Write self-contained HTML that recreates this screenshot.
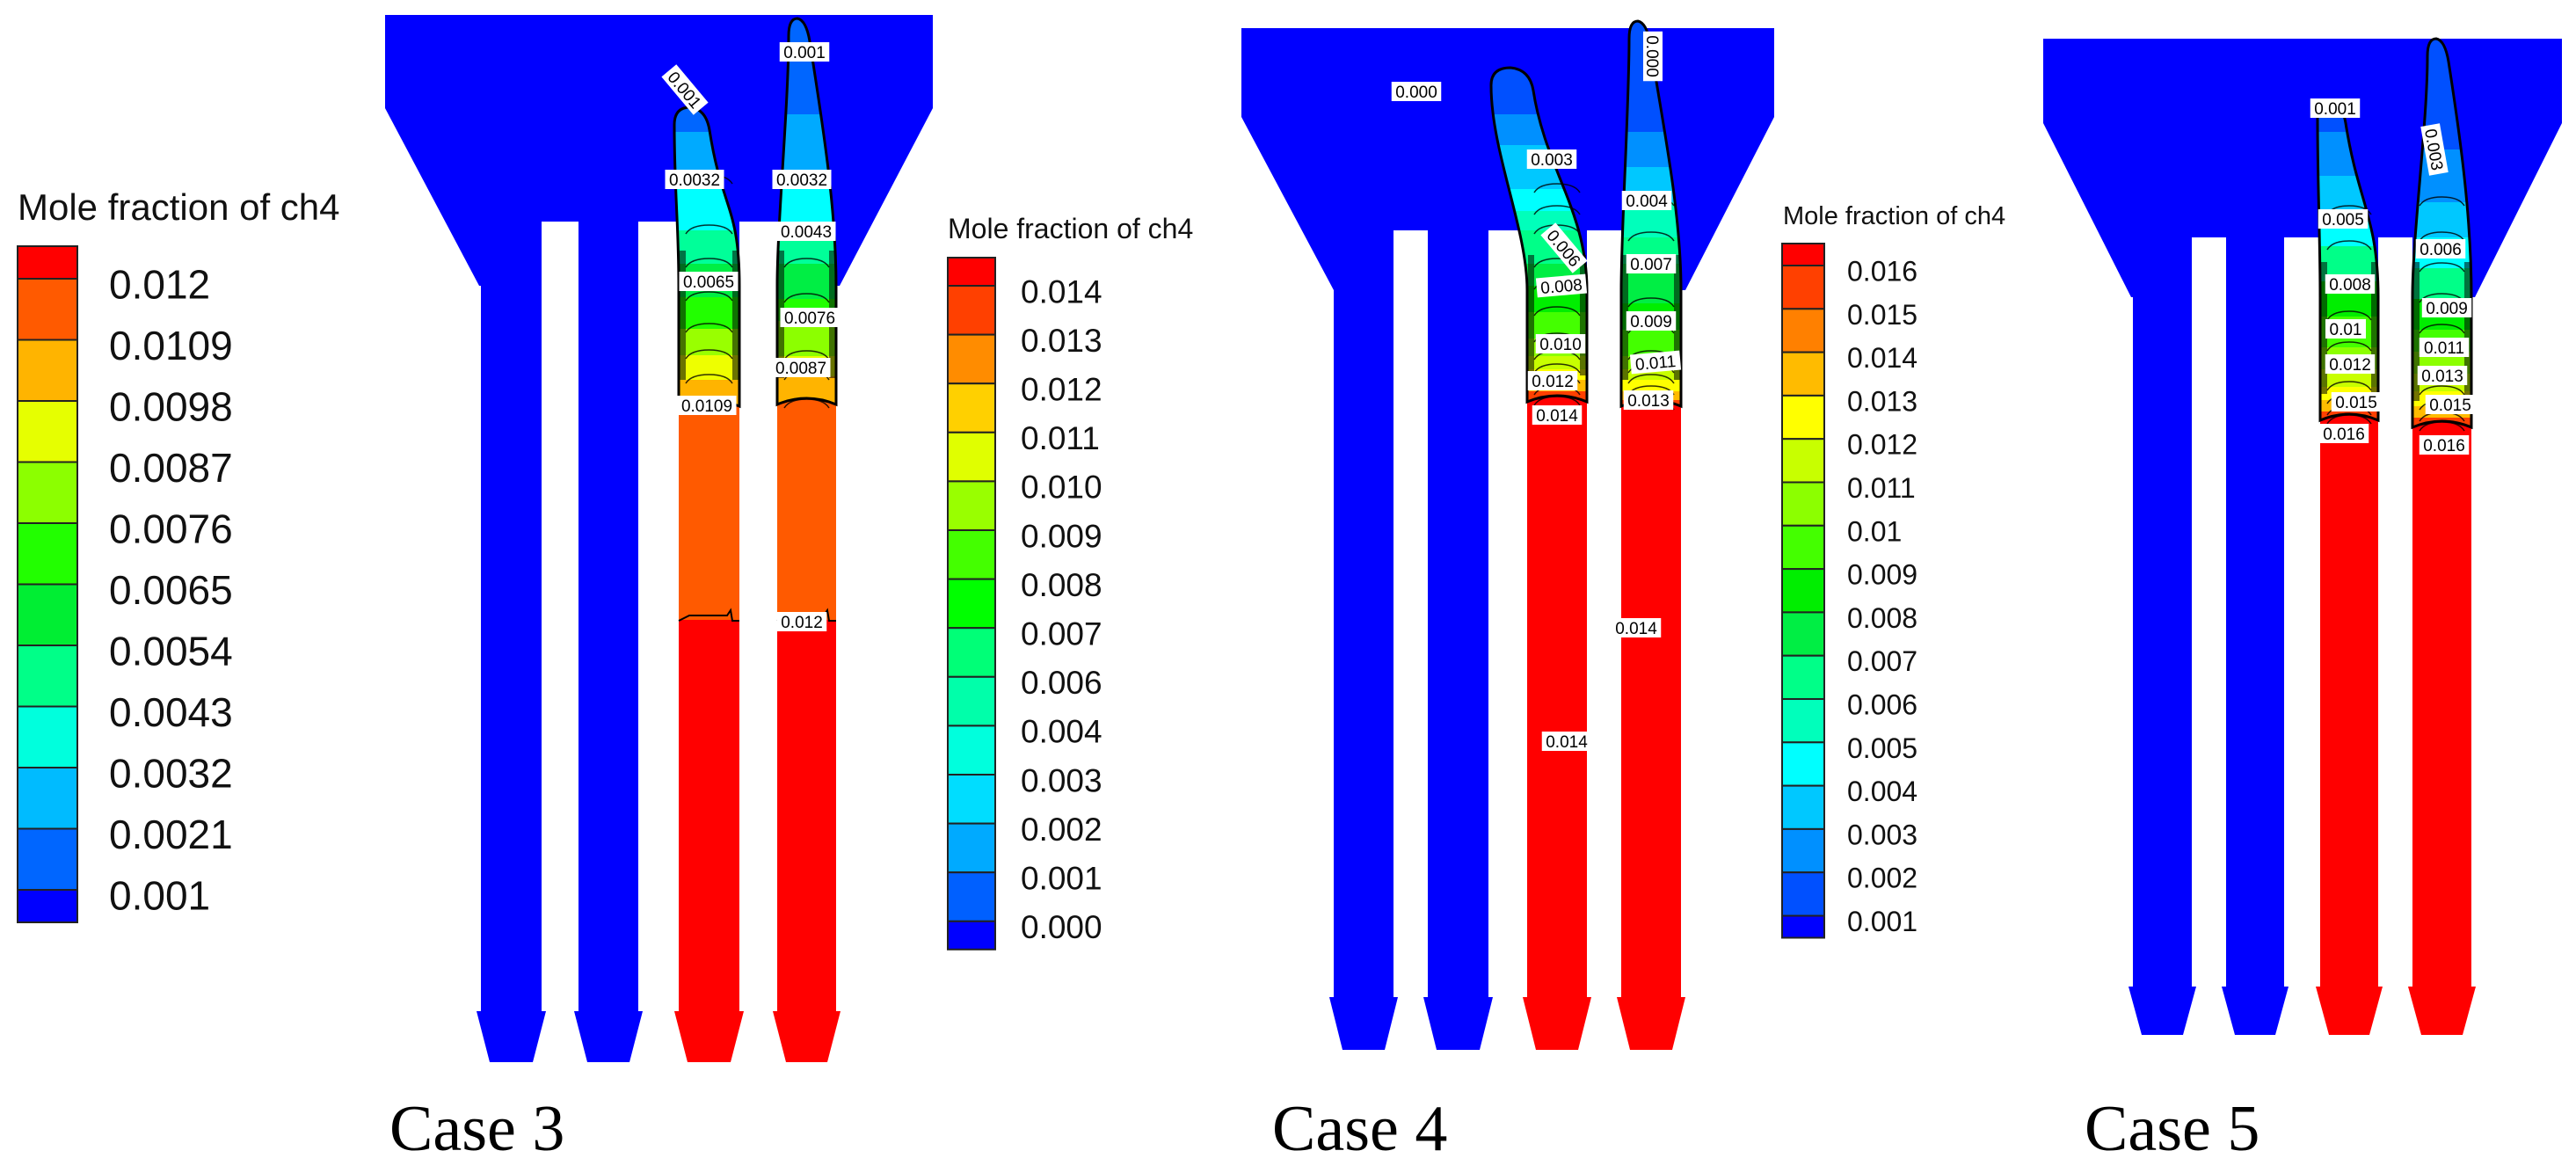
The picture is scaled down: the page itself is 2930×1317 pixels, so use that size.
<!DOCTYPE html>
<html><head><meta charset="utf-8"><style>
html,body{margin:0;padding:0;background:#fff;}
svg{display:block;}
.ct{font-family:"Liberation Sans",sans-serif;font-size:19px;fill:#000;}
.lg{font-family:"Liberation Sans",sans-serif;fill:#111;}
.case{font-family:"Liberation Serif",serif;font-size:74px;fill:#000;}
</style></head><body>
<svg id="fig" width="2930" height="1317" viewBox="0 0 2930 1317" xmlns="http://www.w3.org/2000/svg">
<defs id="defs"></defs>
<g id="geo"></g>
<g id="legends"></g>
<g id="labels"></g>
</svg>
<script>
// Legend data
const legend1Labels = ["0.012","0.0109","0.0098","0.0087","0.0076","0.0065","0.0054","0.0043","0.0032","0.0021","0.001"];
const legend1Colors = ["#ff0000","#ff5a00","#ffb400","#e6ff00","#8cff00","#22ff00","#00ee33","#00ff88","#00ffdd","#00bbff","#0066ff","#0000ff"];
const legend2Labels = ["0.014","0.013","0.012","0.011","0.010","0.009","0.008","0.007","0.006","0.004","0.003","0.002","0.001","0.000"];
const legend2Colors = ["#ff0000","#ff4000","#ff8c00","#ffd000","#e0ff00","#99ff00","#44ff00","#00ff00","#00ff77","#00ffaa","#00ffdd","#00ddff","#00aaff","#0060ff","#0000ff"];
const legend3Labels = ["0.016","0.015","0.014","0.013","0.012","0.011","0.01","0.009","0.008","0.007","0.006","0.005","0.004","0.003","0.002","0.001"];
const legend3Colors = ["#ff0000","#ff4000","#ff8000","#ffbb00","#ffff00","#c8ff00","#8cff00","#44ff00","#00ee00","#00ee44","#00ff88","#00ffbb","#00ffff","#00c8ff","#0090ff","#0050ff","#0000ff"];

const NS="http://www.w3.org/2000/svg";
function mk(tag,attrs,parent){const e=document.createElementNS(NS,tag);for(const k in attrs)e.setAttribute(k,attrs[k]);parent.appendChild(e);return e;}
const geo=document.getElementById('geo'),defs=document.getElementById('defs'),lab=document.getElementById('labels'),leg=document.getElementById('legends');

const cases=[
 {name:"case-3",rx:[438,1061],ry:[17,123],tb:325,tx:[545,955],nt:252,cols:[[547,616],[658,726],[772,841],[884,951]],fl:1150,bt:1208,text:"Case 3",tx0:443},
 {name:"case-4",rx:[1412,2018],ry:[32,133],tb:330,tx:[1517,1917],nt:262,cols:[[1517,1585],[1624,1693],[1737,1805],[1844,1912]],fl:1134,bt:1194,text:"Case 4",tx0:1447},
 {name:"case-5",rx:[2324,2914],ry:[44,140],tb:338,tx:[2424,2815],nt:270,cols:[[2426,2493],[2532,2598],[2639,2705],[2744,2811]],fl:1122,bt:1177,text:"Case 5",tx0:2371}
];
const plumes=[
 [{tx:785,ty:128,w:18,end:462,stops:[[128,"#0066ff"],[150,"#00aaff"],[205,"#00ffff"],[262,"#00ff99"],[300,"#00ee44"],[338,"#22ff00"],[374,"#99ff00"],[404,"#eeff00"],[432,"#ffb400"],[462,"#ff5a00"]]},
  {tx:907,ty:27,w:10,end:460,stops:[[27,"#0066ff"],[130,"#00aaff"],[205,"#00ffff"],[263,"#00ff99"],[300,"#00ee44"],[340,"#22ff00"],[365,"#8cff00"],[405,"#e6ff00"],[428,"#ffb400"],[460,"#ff5a00"]]}],
 [{tx:1718,ty:83,w:22,end:457,stops:[[83,"#0050ff"],[130,"#0090ff"],[165,"#00c8ff"],[215,"#00ffff"],[240,"#00ffbb"],[262,"#00ff88"],[300,"#00ee44"],[325,"#00ee00"],[355,"#44ff00"],[385,"#8cff00"],[405,"#c8ff00"],[420,"#ffff00"],[432,"#ffbb00"],[445,"#ff4000"],[457,"#ff0000"]]},
  {tx:1863,ty:30,w:10,end:462,stops:[[30,"#0050ff"],[150,"#0090ff"],[190,"#00c8ff"],[230,"#00ffbb"],[270,"#00ff88"],[300,"#00ee44"],[345,"#00ee00"],[375,"#44ff00"],[405,"#8cff00"],[420,"#c8ff00"],[432,"#ffff00"],[445,"#ffbb00"],[455,"#ff4000"],[462,"#ff0000"]]}],
 [{tx:2650,ty:120,w:14,end:478,stops:[[120,"#0050ff"],[150,"#0090ff"],[200,"#00c8ff"],[240,"#00ffff"],[280,"#00ff88"],[320,"#00ee00"],[360,"#44ff00"],[395,"#8cff00"],[420,"#c8ff00"],[440,"#ffff00"],[455,"#ffbb00"],[468,"#ff4000"],[478,"#ff0000"]]},
  {tx:2771,ty:50,w:10,end:486,stops:[[50,"#0050ff"],[170,"#0090ff"],[230,"#00c8ff"],[270,"#00ffff"],[305,"#00ff88"],[340,"#00ee00"],[375,"#44ff00"],[400,"#8cff00"],[425,"#c8ff00"],[445,"#ffff00"],[462,"#ffbb00"],[475,"#ff4000"],[486,"#ff0000"]]}]
];

cases.forEach((c,ci)=>{
  const g=mk('g',{},geo);
  
  
  const hop=mk('polygon',{points:`${c.rx[0]},${c.ry[0]} ${c.rx[1]},${c.ry[0]} ${c.rx[1]},${c.ry[1]} ${c.tx[1]},${c.tb} ${c.tx[0]},${c.tb} ${c.rx[0]},${c.ry[1]}`,fill:'#0000ff'},g);
  
  
  for(let i=0;i<3;i++){
    const n=mk('rect',{x:c.cols[i][1],y:c.nt,width:c.cols[i+1][0]-c.cols[i][1],height:c.tb-c.nt+2,fill:'#fff'},g);
    
    
  }
  c.cols.forEach((col,k)=>{
    const red=k>=2;
    const a=col[0],b=col[1],w=b-a,fw=5;
    const cg=mk('g',{},g);
    
    
    const fill=red?'#ff0000':'#0000ff';
    mk('rect',{x:a,y:c.tb-1,width:w,height:c.fl-c.tb+1,fill:fill},cg);
    mk('polygon',{points:`${a-fw},${c.fl} ${b+fw},${c.fl} ${b-10},${c.bt} ${a+10},${c.bt}`,fill:fill},cg);
    if(red){
      if(ci===0){
        mk('rect',{x:a,y:c.tb,width:w,height:705-c.tb,fill:'#ff5a00'},cg);
        mk('path',{d:`M${a},706 L${a+12},700 L${b-14},700 L${b-10},694 L${b-8},706 L${b},706`,fill:'none',stroke:'#000','stroke-width':2},cg);
      }
      const p=plumes[ci][k-2];
      const gid='grad'+ci+k;
      const lg=mk('linearGradient',{id:gid,gradientUnits:'userSpaceOnUse',x1:0,y1:p.ty,x2:0,y2:p.end},defs);
      const y0=p.ty,y1=p.end;
      p.stops.forEach((s,si)=>{
        const off=(s[0]-y0)/(y1-y0);
        if(si>0){const prev=p.stops[si-1];mk('stop',{offset:off,'stop-color':prev[1]},lg);}
        mk('stop',{offset:off,'stop-color':s[1]},lg);
      });
      const tx=p.tx,ty=p.ty,hw=p.w;
      const d=`M${a},${p.end} L${a},${c.tb} C${a},${c.tb-70} ${tx-hw},${ty+90} ${tx-hw},${ty+14} Q${tx-hw},${ty-6} ${tx},${ty-6} Q${tx+hw},${ty-4} ${tx+hw+4},${ty+20} C${tx+hw+18},${ty+110} ${b},${c.tb-90} ${b},${c.tb} L${b},${p.end} Q${(a+b)/2},${p.end-14} ${a},${p.end} Z`;
      const pl=mk('path',{d:d,fill:`url(#${gid})`,stroke:'#000','stroke-width':3},cg);
      
      
      for(let j=1;j<p.stops.length;j++){
        const yy=p.stops[j][0];
        if(yy<c.tb-120) continue;
        mk('path',{d:`M${a+8},${yy+4} Q${a+14},${yy-6} ${(a+b)/2},${yy-6} Q${b-14},${yy-6} ${b-8},${yy+4}`,fill:'none',stroke:'#000','stroke-width':1.5,opacity:0.8},cg);
      }
      mk('rect',{x:a+1,y:c.tb-40,width:7,height:p.end-c.tb+10,fill:'#000',opacity:0.55},cg);
      mk('rect',{x:b-8,y:c.tb-40,width:7,height:p.end-c.tb+10,fill:'#000',opacity:0.55},cg);
    }
  });
  const t=mk('text',{x:c.tx0,y:1308,class:'case'},g);
  t.textContent=c.text;
  
  
});

function legend(name,title,tx,ty,tsize,x,w,top,half,cell,labels,colors,lx,lsize){
  const g=mk('g',{},leg);
  
  
  const tt=mk('text',{x:tx,y:ty,class:'lg','font-size':tsize},g);
  tt.textContent=title;
  
  
  let y=top;
  colors.forEach((col,i)=>{
    const h=(i===0||i===colors.length-1)?half:cell;
    const r=mk('rect',{x:x,y:y,width:w,height:h,fill:col,stroke:'#222','stroke-width':2},g);
    
    
    y+=h;
  });
  labels.forEach((l,i)=>{
    const yy=top+half+i*cell;
    const t=mk('text',{x:lx,y:yy+lsize*0.36+6,class:'lg','font-size':lsize},g);
    t.textContent=l;
    
    
  });
}
legend('legend-case3-left','Mole fraction of ch4',20,250,42,20,68,280,37,69.5,legend1Labels,legend1Colors,124,46);
legend('legend-case3-right','Mole fraction of ch4',1078,271,32,1078,54,293,32,55.6,legend2Labels,legend2Colors,1161,37);
legend('legend-case4','Mole fraction of ch4',2028,255,29,2027,48,277,25,49.3,legend3Labels,legend3Colors,2101,32);

const ctLabels=[
 ["0.001",779,102,50],["0.001",915,59,0],["0.0032",790,204,0],["0.0032",912,204,0],["0.0043",917,263,0],["0.0065",806,320,0],["0.0076",921,361,0],["0.0087",911,418,0],["0.0109",804,461,0],["0.012",912,707,0],
 ["0.000",1611,104,0],["0.000",1880,64,90],["0.003",1765,181,0],["0.004",1873,228,0],["0.006",1779,282,50],["0.007",1878,300,0],["0.008",1776,325,-5],["0.009",1878,365,0],["0.010",1775,391,0],["0.011",1883,412,-5],["0.012",1766,433,0],["0.013",1875,455,0],["0.014",1771,472,0],["0.014",1861,714,0],["0.014",1782,843,0],
 ["0.001",2656,123,0],["0.003",2769,170,80],["0.005",2665,249,0],["0.006",2776,283,0],["0.008",2673,323,0],["0.009",2783,350,0],["0.01",2668,374,0],["0.011",2780,395,0],["0.012",2673,414,0],["0.013",2778,427,0],["0.015",2680,457,0],["0.015",2787,460,0],["0.016",2666,493,0],["0.016",2780,506,0]
];
ctLabels.forEach(l=>{
  const g=mk('g',{transform:`translate(${l[1]},${l[2]}) rotate(${l[3]})`},lab);
  
  
  const wdt=l[0].length*10.5;
  mk('rect',{x:-wdt/2-2,y:-11,width:wdt+4,height:22,fill:'#fff'},g);
  const t=mk('text',{x:0,y:7,class:'ct','text-anchor':'middle'},g);
  t.textContent=l[0];
});
</script>
</body></html>
